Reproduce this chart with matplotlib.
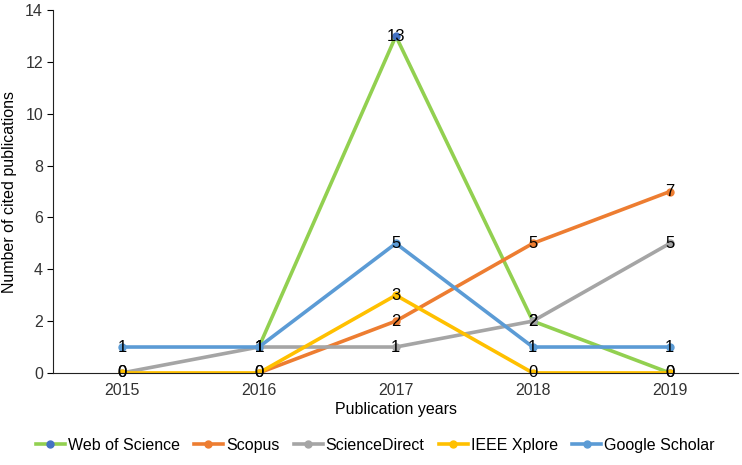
import numpy as np
import matplotlib
matplotlib.use("Agg")
import matplotlib.pyplot as plt

plt.rcParams['font.family'] = ['Liberation Sans', 'DejaVu Sans']

years = ['2015', '2016', '2017', '2018', '2019']
series_names = ['Web of Science', 'Scopus', 'ScienceDirect', 'IEEE Xplore', 'Google Scholar']
wos = [np.nan, 1, 13, 2, 0]
scopus = [np.nan, 0, 2, 5, 7]
sciencedirect = [0, 1, 1, 2, 5]
ieee = [0, 0, 3, 0, 0]
scholar = [1, 1, 5, 1, 1]
all_values = [wos, scopus, sciencedirect, ieee, scholar]

line_colors = ['#92D050', '#ED7D31', '#A5A5A5', '#FFC000', '#5B9BD5']
marker_colors = ['#4472C4', '#ED7D31', '#A5A5A5', '#FFC000', '#5B9BD5']

fig = plt.figure(figsize=(7.42, 4.65), dpi=100)
ax = fig.add_axes([0.072, 0.198, 0.923, 0.780])

x = np.arange(len(years))
for name, vals, lc, mc in zip(series_names, all_values, line_colors, marker_colors):
    ax.plot(x, vals, color=lc, lw=2.6, marker='o', ms=5,
            markerfacecolor=mc, markeredgecolor=mc, label=name)

for vals in all_values:
    for xi, v in zip(x, vals):
        if not np.isnan(v):
            ax.text(xi, v, '%d' % v, ha='center', va='center', fontsize=12, color='black')

ax.set_xlim(-0.5, len(years) - 0.5)
ax.set_ylim(0, 14)
ax.set_yticks(range(0, 15, 2))
ax.set_xticks(x)
ax.set_xticklabels(years)
ax.tick_params(axis='x', length=0, labelsize=11.5, pad=7)
ax.tick_params(axis='y', length=4, labelsize=11.5, direction='out')
for lab in ax.get_xticklabels() + ax.get_yticklabels():
    lab.set_color('#333333')
ax.spines['top'].set_visible(False)
ax.spines['right'].set_visible(False)
ax.spines['left'].set_color('#222222')
ax.spines['bottom'].set_color('#222222')

ax.set_xlabel('Publication years', fontsize=11.5, labelpad=3)
ax.set_ylabel('Number of cited publications', fontsize=11.5, labelpad=6)

ax.legend(loc='upper center', bbox_to_anchor=(0.47, -0.14), ncol=5, frameon=False,
          fontsize=11.5, handlelength=1.8, columnspacing=0.9, handletextpad=0.2)

fig.savefig('out.png', dpi=100)
